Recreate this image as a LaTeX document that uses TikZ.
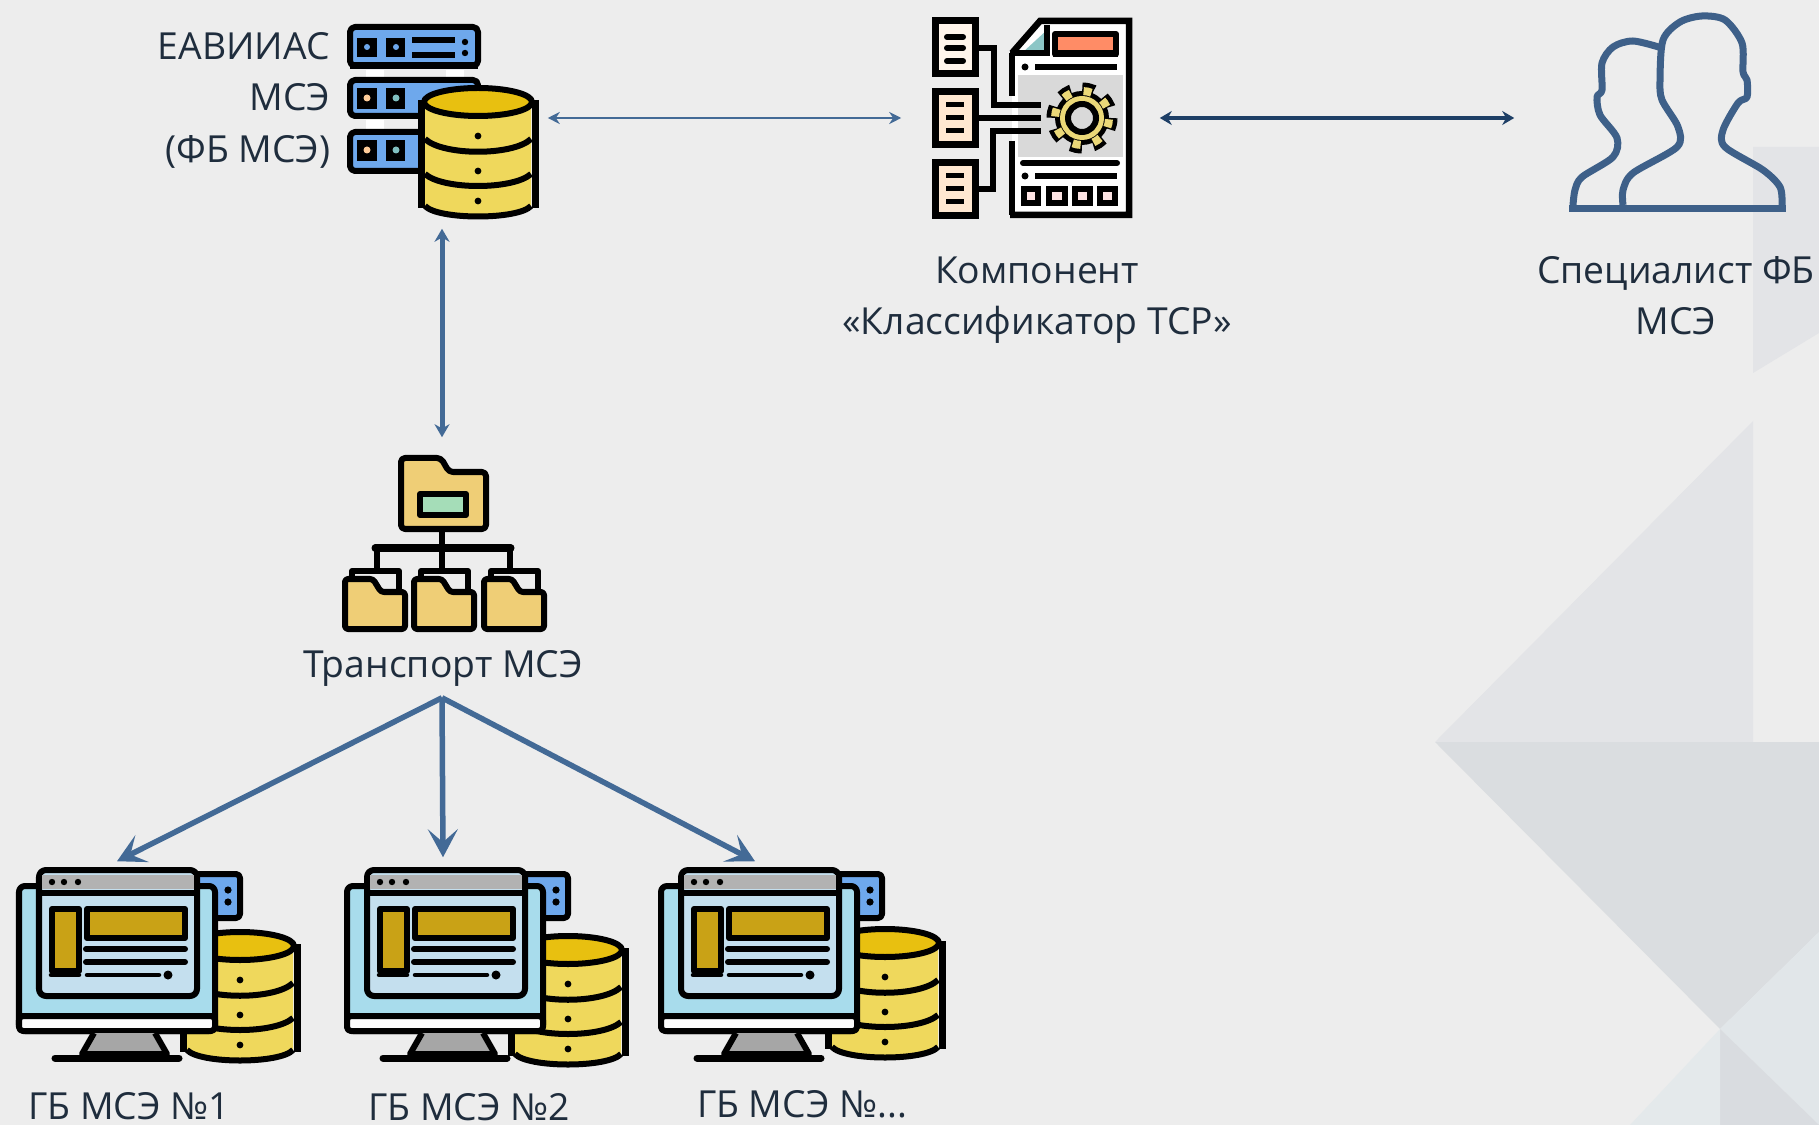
\documentclass[tikz,border=0pt]{standalone}
\usepackage{fontspec}
\usepackage{tikz}
\usetikzlibrary{arrows.meta}
\setmainfont{Open Sans}

\definecolor{pagebg}{HTML}{EDEDED}
\definecolor{inkblue}{HTML}{1F2D3D}
\definecolor{linkblue}{HTML}{436A96}
\definecolor{darklink}{HTML}{1E3F66}
\definecolor{manblue}{HTML}{3E6089}
\definecolor{dbtop}{HTML}{E8C010}
\definecolor{dbside}{HTML}{EFD85C}
\definecolor{srvblue}{HTML}{6EA8EC}
\definecolor{folderfill}{HTML}{EFCE76}
\definecolor{screenblue}{HTML}{A8DCEC}
\definecolor{winblue}{HTML}{C4DFEE}
\definecolor{goldbar}{HTML}{C9A216}
\definecolor{tagreen}{HTML}{A5DDB8}
\definecolor{gearfill}{HTML}{EBD878}
\definecolor{bgone}{HTML}{E3E4E7}
\definecolor{bgtwo}{HTML}{DADDE0}
\definecolor{bgthree}{HTML}{E1E6E9}
\definecolor{bgfour}{HTML}{D9DCE0}
\definecolor{bgfive}{HTML}{E4E9EB}

\tikzset{
	outline/.style={draw=black, line width=0.06cm, line join=round},
	hub/.style={rectangle, draw=none, inner sep=0pt},
	caption/.style={rectangle, draw=none, inner sep=0pt, text=inkblue, text height=0.27cm, text depth=0.08cm, font=\fontsize{10.6}{12}\selectfont},
	thinlink/.style={draw=linkblue, line width=0.028cm, {Stealth[length=0.12cm, width=0.12cm]}-{Stealth[length=0.12cm, width=0.12cm]}},
	boldlink/.style={draw=darklink, line width=0.042cm, {Stealth[length=0.12cm, width=0.14cm]}-{Stealth[length=0.12cm, width=0.14cm]}},
	uplink/.style={draw=linkblue, line width=0.05cm, {Stealth[length=0.13cm, width=0.15cm]}-{Stealth[length=0.13cm, width=0.15cm]}},
	fanlink/.style={draw=linkblue, line width=0.055cm, -{Stealth[inset=0.13cm, length=0.28cm, width=0.3cm]}},
	dbstack/.pic={
		\fill [dbside] (7,16) -- (7,120) .. controls (20,133) and (100,133) .. (113,120) -- (113,16) -- cycle;
		\draw [outline, fill=dbtop] (60,16) ellipse [x radius=54, y radius=14];
		\draw [outline] (7,53) .. controls (25,70) and (95,70) .. (113,53);
		\draw [outline] (7,88) .. controls (25,104) and (95,104) .. (113,88);
		\draw [outline] (7,120) .. controls (20,134) and (100,134) .. (113,120);
		\draw [line width=0.07cm] (3,14) -- (3,122);
		\draw [line width=0.07cm] (117,14) -- (117,122);
		\fill [black] (60,50) circle [radius=3.4];
		\fill [black] (60,85) circle [radius=3.4];
		\fill [black] (60,115) circle [radius=3.4];
	},
	computer/.pic={
		% small server behind the screen
		\draw [outline, fill=srvblue, rounded corners=0.04cm] (165,6) rectangle (221,50);
		\fill [black] (209,22) circle [radius=3.6];
		\fill [black] (209,34) circle [radius=3.6];
		% monitor
		\draw [outline, fill=screenblue, rounded corners=0.06cm] (0,18) rectangle (196,163);
		\draw [outline, fill=white!80!pagebg, rounded corners=0.04cm] (0,148) rectangle (196,163);
		\fill [gray!70] (75,165) -- (136,165) -- (146,186) -- (61,186) -- cycle;
		\draw [outline] (75,165) -- (63,186) -- (148,186) -- (136,165);
		\draw [line width=0.07cm, line cap=round] (36,190) -- (160,190);
		% window
		\draw [outline, fill=winblue, rounded corners=0.07cm] (20,2) rectangle (178,128);
		\fill [gray!60] (23,7) rectangle (175,21);
		\draw [outline] (20,25) -- (178,25);
		\fill [black] (33,14) circle [radius=3.2];
		\fill [black] (45,14) circle [radius=3.2];
		\fill [black] (59,14) circle [radius=3.2];
		\draw [outline, fill=goldbar] (33,41) rectangle (60,103);
		\draw [outline, fill=goldbar] (68,41) rectangle (166,70);
		\draw [outline, line cap=round] (67,81) -- (166,81);
		\draw [outline, line cap=round] (67,94) -- (166,94);
		\draw [line width=0.045cm, line cap=round] (32,107) -- (60,107);
		\draw [line width=0.045cm, line cap=round] (68,107) -- (140,107);
		\fill [black] (149,107) circle [radius=4.5];
	},
	subfolder/.pic={
		\draw [outline, fill=pagebg] (7,8) -- (7,0) -- (54,0) -- (54,20);
		\draw [outline, fill=folderfill, rounded corners=0.03cm] (0,8) -- (28,8) -- (36,21) -- (60,21) -- (60,58) -- (0,58) -- cycle;
	}
}

\begin{document}
\begin{tikzpicture}[x=0.01cm, y=-0.01cm]
  \useasboundingbox (0,0) rectangle (1819,1125);
  \fill [pagebg] (0,0) rectangle (1819,1125);

  % backdrop
  \fill [bgone] (1753,147) -- (1819,147) -- (1819,333) -- (1753,373) -- cycle;
  \fill [bgone] (1435,742) -- (1753,421) -- (1753,742) -- cycle;
  \fill [bgtwo] (1435,742) -- (1819,742) -- (1819,932) -- (1720,1029) -- cycle;
  \fill [bgthree] (1720,1029) -- (1819,932) -- (1819,1125) -- cycle;
  \fill [bgfour] (1720,1029) -- (1819,1125) -- (1720,1125) -- cycle;
  \fill [bgfive] (1720,1029) -- (1720,1125) -- (1630,1125) -- cycle;

  % server rack
  \draw [outline, fill=srvblue, rounded corners=0.05cm] (350,27) rectangle (478,66);
  \draw [line width=0.07cm] (350,66) -- (478,66);
  \fill [white] (366,70) rectangle (384,78);
  \fill [white] (446,70) rectangle (464,78);
  \fill [white] (366,120) rectangle (384,130);
  \draw [outline, fill=srvblue, rounded corners=0.05cm] (350,80) rectangle (478,116);
  \draw [outline, fill=srvblue, rounded corners=0.05cm] (350,132) rectangle (478,171);
  \draw [fill=black] (358,39) rectangle (376,56);
  \draw [fill=black] (387,39) rectangle (404,56);
  \fill [srvblue] (367,47) circle [radius=3];
  \fill [srvblue] (396,47) circle [radius=3];
  \draw [outline] (412,40) -- (455,40);
  \draw [outline] (412,55) -- (455,55);
  \fill [black] (465,42) circle [radius=3.2];
  \fill [black] (465,53) circle [radius=3.2];
  \draw [fill=black] (358,89) rectangle (376,108);
  \draw [fill=black] (387,89) rectangle (404,108);
  \fill [orange!40] (367,98) circle [radius=3.5];
  \fill [teal!50] (396,98) circle [radius=3.5];
  \draw [fill=black] (358,141) rectangle (376,160);
  \draw [fill=black] (387,141) rectangle (404,160);
  \fill [orange!40] (367,150) circle [radius=3.5];
  \fill [teal!50] (396,150) circle [radius=3.5];
  \pic at (418,86) {dbstack};

  % classifier component
  \draw [draw=black, line width=0.07cm, fill=orange!8] (935,21) rectangle (975,74);
  \draw [draw=black, line width=0.07cm, fill=orange!18] (935,92) rectangle (975,145);
  \draw [draw=black, line width=0.07cm, fill=orange!18] (935,163) rectangle (975,216);
  \draw [line width=0.06cm, line cap=round] (947,37) -- (963,37);
  \draw [line width=0.06cm, line cap=round] (947,48) -- (963,48);
  \draw [line width=0.06cm, line cap=round] (947,61) -- (963,61);
  \draw [line width=0.05cm] (946,105) -- (964,105);
  \draw [line width=0.05cm] (946,118) -- (964,118);
  \draw [line width=0.05cm] (946,131) -- (964,131);
  \draw [line width=0.05cm] (946,176) -- (964,176);
  \draw [line width=0.05cm] (946,189) -- (964,189);
  \draw [line width=0.05cm] (946,202) -- (964,202);
  \fill [white] (1012,53) -- (1040,22) -- (1128,22) -- (1128,215) -- (1012,215) -- cycle;
  \fill [gray!30] (1018,75) rectangle (1123,157);
  \draw [line width=0.06cm] (1012,53) -- (1012,96);
  \draw [line width=0.06cm] (1012,141) -- (1012,215);
  \draw [line width=0.065cm] (1010,215) -- (1129,215) -- (1129,21) -- (1040,21) -- (1012,53);
  \fill [teal!45] (1047,30) -- (1047,53) -- (1022,53) -- cycle;
  \draw [line width=0.06cm] (1010,53) -- (1047,53) -- (1047,25);
  \draw [outline, fill=red!50!orange!60] (1055,34) rectangle (1116,54);
  \draw [line width=0.07cm] (1053,54) -- (1118,54);
  \fill [black] (1025,67) circle [radius=3.5];
  \draw [line width=0.055cm] (1035,67) -- (1117,67);
  \draw [line width=0.055cm] (977,48) -- (994,48) -- (994,105) -- (1041,105);
  \draw [line width=0.055cm] (977,118) -- (1041,118);
  \draw [line width=0.055cm] (977,189) -- (993,189) -- (993,131) -- (1041,131);
  \fill [black] (1082,118) circle [radius=27];
  \draw [line width=0.13cm, dash pattern=on 0.114cm off 0.1138cm] (1082,118) circle [radius=29];
  \draw [gearfill, line width=0.08cm, dash pattern=on 0.08cm off 0.132cm, dash phase=0.1985cm] (1082,118) circle [radius=27];
  \fill [gearfill] (1082,118) circle [radius=22];
  \draw [outline, fill=white!70!gray] (1082,118) circle [radius=14];
  \draw [line width=0.06cm, line cap=round] (1023,163) -- (1117,163);
  \fill [black] (1025,176) circle [radius=3.5];
  \draw [line width=0.055cm] (1035,176) -- (1117,176);
  \draw [line width=0.055cm, fill=red!10] (1024,189) rectangle (1038,203);
  \draw [line width=0.055cm, fill=red!10] (1049,189) rectangle (1065,203);
  \draw [line width=0.055cm, fill=red!10] (1075,189) rectangle (1090,203);
  \draw [line width=0.055cm, fill=red!10] (1100,189) rectangle (1115,203);

  % specialists
  \draw [draw=manblue, line width=0.07cm, line join=round] plot [smooth, tension=0.5] coordinates {(1573,205) (1575,190) (1582,177) (1613,157) (1617,138) (1600,115) (1597,97) (1602,90) (1602,63) (1613,47) (1633,41) (1662,48)};
  \draw [draw=manblue, line width=0.07cm, line join=round] plot [smooth, tension=0.5] coordinates {(1623,205) (1623,190) (1633,173) (1677,147) (1678,127) (1662,100) (1660,80) (1663,40) (1680,22) (1702,16) (1725,20) (1742,43) (1743,72) (1747,80) (1747,97) (1738,103) (1723,130) (1725,147) (1763,170) (1780,187) (1782,205)};
  \fill [manblue] (1569,205) rectangle (1786,212);

  % transport folders
  \draw [outline, fill=folderfill, rounded corners=0.04cm] (401,458) -- (441,458) -- (449,472) -- (486,472) -- (486,529) -- (401,529) -- cycle;
  \draw [outline, fill=tagreen] (420,494) rectangle (466,515);
  \draw [line width=0.055cm] (442,530) -- (442,548);
  \draw [line width=0.07cm, line cap=round] (375,548) -- (511,548);
  \draw [line width=0.055cm] (377,548) -- (377,570);
  \draw [line width=0.055cm] (442,548) -- (442,570);
  \draw [line width=0.055cm] (510,548) -- (510,570);
  \pic at (345,571) {subfolder};
  \pic at (414,571) {subfolder};
  \pic at (484,571) {subfolder};

  % local databases and workstations
  \pic at (180,930) {dbstack};
  \pic at (19,868) {computer};
  \pic at (508,934) {dbstack};
  \pic at (347,868) {computer};
  \pic at (825,927) {dbstack};
  \pic at (661,868) {computer};

  \node (fb) [hub, minimum width=2.1cm, minimum height=2.2cm] at (442,118) {};
  \node (fb_1) [caption, anchor=east] at (331,50) {ЕАВИИАС};
  \node (fb_2) [caption, anchor=east] at (331,101) {МСЭ};
  \node (fb_3) [caption, anchor=east] at (331,153) {(ФБ МСЭ)};
  \node (comp) [hub, minimum width=2.57cm, minimum height=2cm] at (1030.5,118) {};
  \node (comp_1) [caption] at (1037,274) {Компонент};
  \node (comp_2) [caption] at (1037,325) {«Классификатор ТСР»};
  \node (spec) [hub, minimum width=3.3cm, minimum height=2cm] at (1680,118) {};
  \node (spec_1) [caption] at (1676,274) {Специалист ФБ};
  \node (spec_2) [caption] at (1676,325) {МСЭ};
  \node (trans) [hub, minimum width=2cm, minimum height=2.59cm] at (442,567.5) {};
  \node (trans_1) [caption] at (443,668) {Транспорт МСЭ};
  \node (gb_1) [hub, minimum width=2cm, minimum height=1.9cm] at (117,957) {};
  \node (gb_2) [hub, minimum width=2cm, minimum height=1.9cm] at (443,953) {};
  \node (gb_3) [hub, minimum width=2cm, minimum height=1.9cm] at (755,957) {};
  \node (gb_1_label) [caption] at (129,1110) {ГБ МСЭ №1};
  \node (gb_2_label) [caption] at (469,1111) {ГБ МСЭ №2};
  \node (gb_3_label) [caption] at (802,1108) {ГБ МСЭ №...};

  \draw (fb.east) edge [thinlink] (comp.west);
  \draw (comp.east) edge [boldlink] (spec.west);
  \draw (fb.south) edge [uplink] (trans.north);
  \draw (trans.south) edge [fanlink] (gb_1.north);
  \draw (trans.south) edge [fanlink] (gb_2.north);
  \draw (trans.south) edge [fanlink] (gb_3.north);
\end{tikzpicture}
\end{document}
